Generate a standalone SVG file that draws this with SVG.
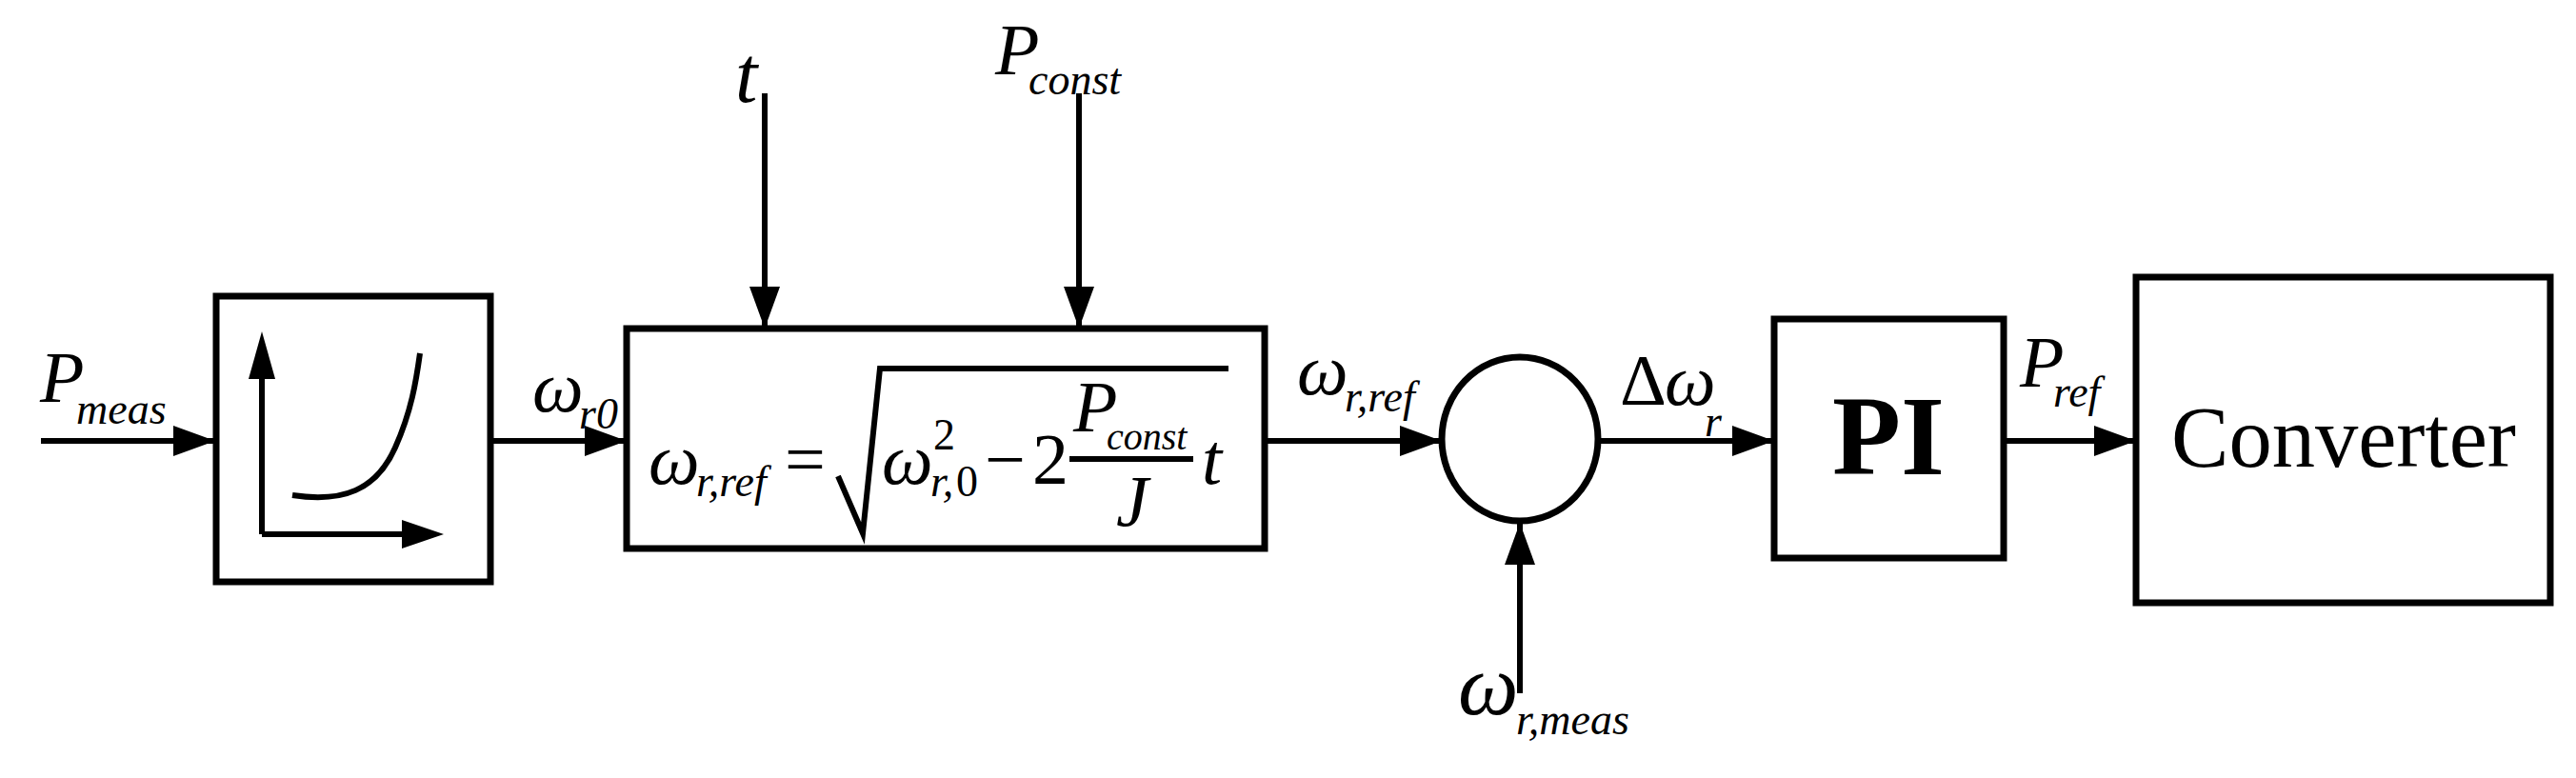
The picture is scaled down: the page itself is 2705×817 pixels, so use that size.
<svg xmlns="http://www.w3.org/2000/svg" width="2705" height="817" viewBox="0 0 2705 817">
<style>
.b{fill:none;stroke:#000;stroke-width:7}
.l{fill:none;stroke:#000;stroke-width:6}
text{font-family:"Liberation Serif","Times New Roman",serif;fill:#000}
.i{font-style:italic}
.m{font-size:76px}
.s{font-size:46px}
</style>
<defs>
<marker id="a" markerUnits="userSpaceOnUse" markerWidth="46" markerHeight="32" refX="44" refY="16" orient="auto"><path d="M0,0 L44,16 L0,32 Z" fill="#000"/></marker>
</defs>
<rect width="2705" height="817" fill="#fff"/>
<g id="connectors">
<line class="l" x1="43" y1="463" x2="226" y2="463" marker-end="url(#a)"/>
<line class="l" x1="514" y1="463" x2="658" y2="463" marker-end="url(#a)"/>
<line class="l" x1="803" y1="98" x2="803" y2="345" marker-end="url(#a)"/>
<line class="l" x1="1133" y1="98" x2="1133" y2="345" marker-end="url(#a)"/>
<line class="l" x1="1328" y1="463" x2="1514" y2="463" marker-end="url(#a)"/>
<line class="l" x1="1596" y1="728" x2="1596" y2="549" marker-end="url(#a)"/>
<line class="l" x1="1678" y1="463" x2="1863" y2="463" marker-end="url(#a)"/>
<line class="l" x1="2104" y1="463" x2="2243" y2="463" marker-end="url(#a)"/>
</g>
<g id="pmeas-label"><text class="i m" x="42" y="422">P</text><text class="i s" x="80" y="445">meas</text></g>
<g id="lookup">
<rect class="b" x="227" y="311" width="288" height="300"/>
<path class="l" d="M275,561 L275,395"/>
<path d="M261,398 L275,348 L289,398 Z"/>
<path class="l" d="M275,561 L425,561"/>
<path d="M422,546 L466,561 L422,576 Z"/>
<path class="l" d="M307,520 C360,528 395,515 415,470 C432,432 437,400 441,371"/>
</g>
<g id="wr0-label"><text class="i m" x="559" y="432">ω</text><text class="i s" x="608" y="450">r0</text></g>
<g id="t-label"><text class="i" font-size="84" x="772" y="107">t</text></g>
<g id="pconst-label"><text class="i m" x="1045" y="78">P</text><text class="i s" x="1080" y="99">const</text></g>
<g id="refcalc">
<rect class="b" x="658" y="345" width="670" height="231"/>
<text class="i m" x="681" y="508">ω</text><text class="i s" x="731" y="521">r,ref</text>
<text class="m" x="824" y="508">=</text>
<path class="l" d="M880,500 L906,560 L924,387 L1290,387" stroke-width="4"/>
<text class="i m" x="926" y="508">ω</text><text class="s" x="980" y="472">2</text><text class="i s" x="977" y="521">r,</text><text class="s" x="1004" y="521">0</text>
<text class="m" x="1034" y="508">−</text><text class="m" x="1084" y="508">2</text>
<line class="l" x1="1123" y1="482" x2="1253" y2="482" stroke-width="4"/>
<text class="i m" x="1127" y="453">P</text><text class="i" font-size="40" x="1162" y="472">const</text>
<text class="i m" x="1172" y="552">J</text>
<text class="i m" x="1262" y="508">t</text>
</g>
<g id="wrref-label"><text class="i m" x="1362" y="414">ω</text><text class="i s" x="1412" y="432">r,ref</text></g>
<g id="sum"><ellipse class="b" cx="1596" cy="461" rx="82" ry="86"/></g>
<g id="wrmeas-label"><text class="i" font-size="90" x="1531" y="750">ω</text><text class="i s" x="1592" y="771">r,meas</text></g>
<g id="dw-label"><text class="m" x="1701" y="425">Δ</text><text class="i m" x="1748" y="425">ω</text><text class="i s" x="1790" y="458">r</text></g>
<g id="pi"><rect class="b" x="1863" y="335" width="241" height="251"/><text font-weight="bold" font-size="118" x="1983" y="498" text-anchor="middle">PI</text></g>
<g id="pref-label"><text class="i m" x="2121" y="406">P</text><text class="i s" x="2156" y="427">ref</text></g>
<g id="converter"><rect class="b" x="2243" y="291" width="435" height="342"/><text font-size="92" x="2280" y="490" textLength="362" lengthAdjust="spacingAndGlyphs">Converter</text></g>
</svg>
